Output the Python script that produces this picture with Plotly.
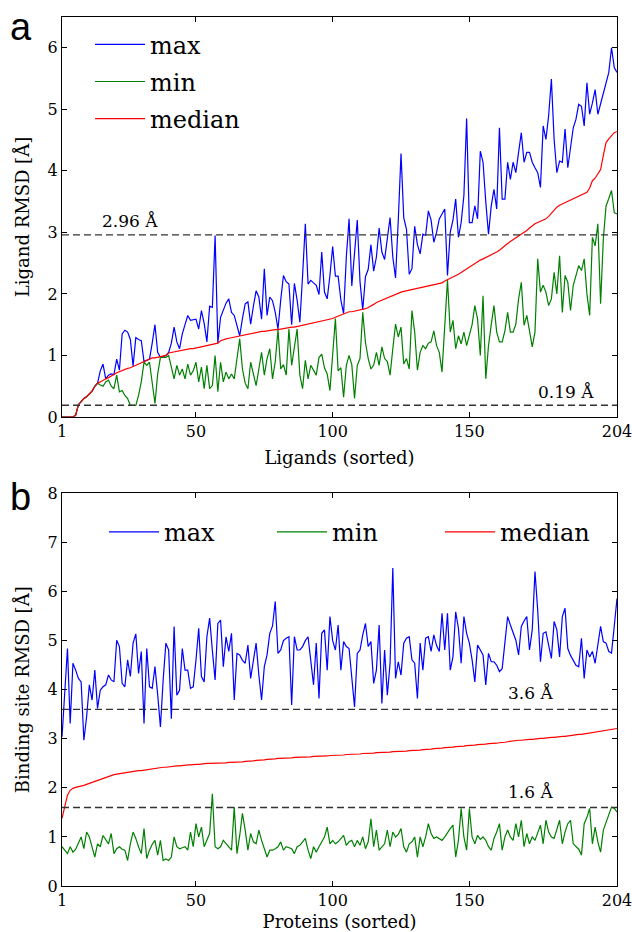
import plotly.graph_objects as go

x_idx = list(range(1, 205))
x_ticks = [1, 50, 100, 150, 204]
ya_ticks = [0, 1, 2, 3, 4, 5, 6]
yb_ticks = [0, 1, 2, 3, 4, 5, 6, 7, 8]
series_names = ["max", "min", "median"]

lig_median = [0,0,0,0,0,0.03,0.2,0.25,0.3,0.33,
0.37,0.42,0.5,0.55,0.57,0.6,0.62,0.64,0.66,0.69,
0.72,0.74,0.76,0.77,0.79,0.8,0.82,0.84,0.86,0.88,
0.9,0.92,0.94,0.96,0.96,0.97,0.97,0.98,1.0,1.04,
1.05,1.06,1.07,1.08,1.08,1.09,1.1,1.11,1.11,1.12,
1.13,1.14,1.15,1.16,1.17,1.18,1.19,1.2,1.24,1.26,
1.27,1.28,1.29,1.3,1.31,1.32,1.33,1.34,1.35,1.36,
1.36,1.37,1.38,1.39,1.39,1.4,1.41,1.41,1.42,1.42,
1.43,1.44,1.44,1.45,1.46,1.46,1.47,1.48,1.48,1.49,
1.5,1.51,1.52,1.53,1.54,1.55,1.56,1.57,1.59,1.6,
1.62,1.64,1.66,1.68,1.7,1.71,1.71,1.72,1.72,1.73,
1.74,1.76,1.78,1.8,1.83,1.86,1.88,1.9,1.92,1.94,
1.95,1.97,1.99,2.01,2.03,2.04,2.05,2.06,2.07,2.08,
2.09,2.1,2.1,2.11,2.12,2.13,2.14,2.15,2.16,2.18,
2.21,2.23,2.25,2.27,2.3,2.32,2.35,2.38,2.41,2.44,
2.46,2.49,2.52,2.55,2.57,2.59,2.62,2.64,2.66,2.68,
2.71,2.75,2.79,2.82,2.85,2.88,2.91,2.94,2.96,2.99,
3.03,3.07,3.11,3.14,3.16,3.18,3.2,3.22,3.26,3.31,
3.36,3.41,3.44,3.46,3.48,3.5,3.52,3.54,3.56,3.58,
3.6,3.62,3.65,3.72,3.84,3.88,3.94,4.02,4.25,4.46,
4.52,4.58,4.62,4.64]

lig_max = [0,0,0,0,0,0.03,0.2,0.25,0.3,0.33,
0.37,0.42,0.5,0.55,0.75,0.86,0.62,0.68,0.70,0.69,
0.94,0.76,1.35,1.41,1.38,1.26,0.83,1.29,1.26,1.24,
0.9,0.92,0.94,1.2,1.5,1.05,0.97,0.98,1.0,1.05,
1.2,1.46,1.22,1.11,1.35,1.5,1.65,1.57,1.58,1.59,
1.43,1.73,1.52,1.22,1.8,1.78,2.95,1.2,1.62,1.75,
1.85,1.92,1.70,1.65,1.5,1.32,1.6,1.84,1.87,1.51,
1.8,2.05,1.95,1.59,2.41,1.65,1.95,1.89,1.7,1.43,
1.9,2.3,2.2,2.16,1.5,2.17,1.9,1.54,2.3,3.14,
2.16,2.22,2.18,2.14,1.99,2.68,2.03,1.92,2.3,2.77,
2.29,2.29,1.9,1.68,2.6,3.22,2.13,2.67,3.2,2.2,
1.74,2.28,2.4,2.8,2.37,2.6,3.07,2.68,2.56,2.9,
3.24,2.6,2.26,3.2,4.28,3.24,3.05,2.32,2.41,3.1,
2.8,2.65,2.97,2.95,3.35,3.2,2.84,3.0,3.22,3.3,
3.38,2.3,3.0,3.2,3.54,2.92,3.16,3.6,4.85,3.16,
3.16,3.43,3.22,4.32,4.14,3.5,2.97,3.43,3.7,3.38,
4.7,3.54,3.54,4.14,3.86,4.14,3.97,4.3,4.62,4.14,
4.3,4.3,4.14,4.05,3.97,3.73,4.73,4.51,4.9,5.49,
4.51,3.97,4.16,4.14,4.68,4.05,4.4,4.7,4.84,5.08,
5.05,4.73,5.43,4.92,5.1,5.32,4.92,5.1,5.27,5.43,
5.6,6.0,5.68,5.6]

lig_min = [0,0,0,0,0,0.03,0.2,0.25,0.3,0.33,
0.37,0.42,0.5,0.55,0.52,0.5,0.57,0.6,0.5,0.46,
0.68,0.41,0.43,0.35,0.3,0.19,0.19,0.19,0.35,0.57,
0.89,0.84,0.89,0.55,0.22,0.7,0.97,0.97,0.97,1.0,
0.8,0.62,0.84,0.68,0.78,0.62,0.86,0.68,0.75,0.89,
0.57,0.81,0.46,0.84,0.46,0.51,1.0,0.41,0.89,0.57,
0.73,0.62,0.7,0.62,0.95,1.27,0.78,0.55,0.46,0.89,
0.7,0.51,0.78,1.05,0.68,0.95,1.11,0.62,0.9,1.42,
0.78,0.85,0.68,1.43,0.84,1.1,1.43,0.68,0.46,0.92,
0.62,0.84,0.75,0.68,0.97,1.02,0.8,0.7,0.43,1.0,
1.6,0.75,0.8,0.32,0.84,1.0,0.85,0.3,0.84,0.95,
1.7,1.21,0.95,0.78,0.84,1.05,0.84,1.14,0.95,0.9,
0.68,1.11,1.51,1.3,1.46,0.86,0.95,0.78,1.73,1.38,
0.76,1.05,1.16,1.11,1.2,1.22,1.4,1.16,1.05,0.73,
1.5,2.23,1.38,1.57,1.11,1.32,1.19,1.38,1.16,1.32,
1.5,1.81,1.59,1.0,1.97,0.62,1.16,1.5,1.81,1.38,
1.22,1.22,1.4,1.7,1.38,1.38,1.51,1.92,2.19,1.49,
1.65,1.4,1.14,1.38,2.57,2.03,2.14,2.03,1.81,1.92,
2.35,2.0,2.62,1.7,2.3,2.19,1.73,2.14,2.3,2.46,
2.38,2.57,2.0,1.65,2.92,2.78,3.14,1.84,2.9,3.43,
3.55,3.68,3.32,3.3]

site_median = [1.38,1.62,1.85,1.95,1.99,2.01,2.02,2.03,2.05,2.07,
2.09,2.11,2.14,2.16,2.18,2.2,2.22,2.24,2.26,2.27,
2.28,2.29,2.3,2.31,2.32,2.33,2.34,2.34,2.35,2.35,
2.36,2.37,2.38,2.38,2.39,2.4,2.41,2.42,2.42,2.43,
2.44,2.44,2.45,2.45,2.46,2.46,2.47,2.47,2.48,2.48,
2.48,2.49,2.49,2.5,2.5,2.5,2.5,2.51,2.51,2.51,
2.51,2.52,2.52,2.52,2.53,2.53,2.53,2.54,2.54,2.55,
2.55,2.56,2.56,2.57,2.57,2.58,2.58,2.59,2.59,2.6,
2.6,2.6,2.61,2.61,2.61,2.62,2.62,2.62,2.62,2.63,
2.63,2.63,2.64,2.64,2.64,2.65,2.65,2.65,2.66,2.66,
2.66,2.67,2.67,2.67,2.68,2.68,2.68,2.69,2.69,2.69,
2.7,2.7,2.7,2.71,2.71,2.72,2.72,2.72,2.73,2.73,
2.73,2.74,2.74,2.74,2.75,2.75,2.75,2.76,2.76,2.76,
2.77,2.77,2.78,2.78,2.79,2.79,2.8,2.8,2.81,2.81,
2.82,2.82,2.83,2.83,2.84,2.84,2.85,2.85,2.86,2.86,
2.87,2.87,2.88,2.88,2.89,2.89,2.9,2.9,2.91,2.91,
2.92,2.92,2.93,2.94,2.95,2.96,2.96,2.97,2.97,2.98,
2.98,2.99,2.99,3.0,3.0,3.01,3.01,3.02,3.02,3.03,
3.03,3.04,3.04,3.05,3.05,3.06,3.06,3.07,3.08,3.09,
3.09,3.1,3.11,3.12,3.13,3.14,3.15,3.16,3.17,3.18,
3.18,3.19,3.2,3.21]

site_max = [3.04,3.9,4.84,3.31,4.54,4.4,4.23,4.16,2.97,3.45,
4.10,3.79,4.40,3.62,3.99,4.06,4.1,4.30,4.20,4.16,
5.01,4.88,4.13,4.06,4.61,4.27,4.95,5.14,4.33,4.78,
3.31,4.84,4.06,4.03,4.47,3.9,3.24,4.2,4.95,4.81,
3.41,5.29,3.89,3.99,4.84,4.40,4.40,4.03,4.06,4.6,
5.25,4.27,4.16,5.08,5.46,4.8,4.20,5.35,5.42,4.47,
5.08,4.78,5.15,3.79,4.74,4.71,4.6,4.54,4.91,4.23,
4.57,4.95,4.3,3.79,4.47,4.71,5.15,5.3,5.80,4.74,
4.81,5.0,5.05,5.08,3.69,5.08,4.81,4.81,4.88,5.0,
5.08,4.6,4.10,4.95,3.82,5.15,5.22,4.40,5.49,5.0,
4.81,5.32,4.40,4.98,4.88,4.84,4.2,3.65,4.74,4.81,
5.12,5.35,4.88,4.98,4.13,4.40,5.32,3.72,4.81,3.89,
4.54,6.48,4.23,4.57,4.30,4.95,5.05,5.08,4.61,4.54,
3.82,4.95,4.40,5.05,5.08,4.78,5.12,4.9,4.78,5.56,
4.81,5.56,4.40,4.67,5.59,5.25,4.54,5.49,5.15,4.95,
4.61,4.16,4.91,4.8,4.71,4.10,4.74,4.57,4.57,4.5,
4.37,4.43,4.91,5.49,5.32,5.15,5.01,4.71,5.29,5.4,
5.49,4.81,5.22,6.41,5.62,4.57,5.15,5.18,4.9,4.64,
5.39,5.22,4.67,5.49,5.66,4.84,4.7,4.60,4.50,4.47,
5.05,4.23,4.81,4.67,4.78,4.54,4.9,5.29,4.98,4.95,
4.78,4.75,5.3,5.86]

site_min = [0.80,0.73,0.66,0.80,0.69,0.75,0.86,1.0,0.76,1.10,
1.0,0.8,0.59,0.86,0.80,1.03,0.95,0.86,1.07,0.66,
0.76,0.80,0.75,0.73,0.52,0.86,1.10,0.97,0.8,0.66,
1.17,0.56,0.73,0.85,0.93,0.63,0.93,0.52,0.55,0.52,
0.59,1.0,0.80,0.76,0.78,0.80,0.73,1.10,0.80,1.27,
1.0,1.20,0.80,0.93,1.07,1.88,0.80,0.76,0.80,0.93,
0.86,0.8,0.73,1.61,0.66,1.03,1.48,1.14,0.73,1.07,
0.9,0.86,1.14,0.93,0.76,0.59,0.73,0.73,0.76,0.80,
0.90,0.73,0.80,0.78,0.76,0.66,0.80,0.83,0.9,0.97,
0.73,0.56,0.80,0.69,0.80,0.90,1.0,1.20,0.86,0.93,
0.86,0.9,0.97,1.03,0.83,0.9,0.93,0.80,0.93,0.83,
1.0,0.76,0.9,1.37,0.80,1.14,0.73,0.8,0.86,1.14,
0.80,1.10,1.0,1.05,1.17,0.80,0.69,0.86,0.9,1.0,
0.59,1.0,0.80,1.0,1.27,1.07,0.97,1.0,0.97,0.93,
1.0,1.10,1.17,1.24,0.59,0.93,1.58,1.0,0.73,1.58,
1.0,0.86,1.03,0.95,1.0,0.93,0.80,0.73,0.97,1.1,
1.27,0.73,1.0,1.14,1.0,0.93,1.27,1.0,1.34,0.80,
1.07,0.86,1.0,0.93,1.1,1.24,0.86,1.34,1.1,1.0,
0.97,1.14,1.34,0.86,1.1,1.27,1.34,0.86,0.80,0.75,
0.63,1.27,1.4,1.58,0.86,1.20,0.9,0.69,1.14,1.3,
1.48,1.61,1.58,1.51]

lig_thresholds = [2.96, 0.19]
site_thresholds = [3.6, 1.6]

colors = {"max": "#0000ff", "min": "#008000", "median": "#ff0000"}
SERIF = "DejaVu Serif"

fig = go.Figure()
for name, ys in zip(series_names, [lig_max, lig_min, lig_median]):
    fig.add_trace(go.Scatter(x=x_idx, y=ys, mode="lines", name=name,
                             line=dict(color=colors[name], width=1.2),
                             xaxis="x", yaxis="y", legend="legend",
                             legendgroup="a_" + name))
for name, ys in zip(series_names, [site_max, site_min, site_median]):
    fig.add_trace(go.Scatter(x=x_idx, y=ys, mode="lines", name=name,
                             line=dict(color=colors[name], width=1.2),
                             xaxis="x2", yaxis="y2", legend="legend2"))

# empty helper traces so the frame axes (top / right) are created
fig.add_trace(go.Scatter(x=[], y=[], xaxis="x3", yaxis="y3", showlegend=False, hoverinfo="skip"))
fig.add_trace(go.Scatter(x=[], y=[], xaxis="x4", yaxis="y4", showlegend=False, hoverinfo="skip"))

for v in lig_thresholds:
    fig.add_shape(type="line", xref="x domain", yref="y", x0=0, x1=1, y0=v, y1=v,
                  line=dict(color="#333333", width=1.4, dash="7px,4px"))
for v in site_thresholds:
    fig.add_shape(type="line", xref="x2 domain", yref="y2", x0=0, x1=1, y0=v, y1=v,
                  line=dict(color="#333333", width=1.4, dash="7px,4px"))

ann_font = dict(family=SERIF, size=17, color="black")
fig.add_annotation(x=26, y=3.18, xref="x", yref="y", text="2.96 Å", showarrow=False, font=ann_font)
fig.add_annotation(x=185.5, y=0.41, xref="x", yref="y", text="0.19 Å", showarrow=False, font=ann_font)
fig.add_annotation(x=172.5, y=3.93, xref="x2", yref="y2", text="3.6 Å", showarrow=False, font=ann_font)
fig.add_annotation(x=172.5, y=1.91, xref="x2", yref="y2", text="1.6 Å", showarrow=False, font=ann_font)

lab_font = dict(family="Liberation Sans", size=38, color="black")
fig.add_annotation(x=-0.074, y=0.9885, xref="paper", yref="paper", text="a", showarrow=False,
                   font=lab_font, xanchor="center", yanchor="middle")
fig.add_annotation(x=-0.074, y=0.4482, xref="paper", yref="paper", text="b", showarrow=False,
                   font=lab_font, xanchor="center", yanchor="middle")

tick_font = dict(family=SERIF, size=16, color="black")
title_font = dict(family=SERIF, size=18, color="black")
axis_common = dict(showline=True, linecolor="black", linewidth=1, mirror="ticks",
                   ticks="inside", ticklen=5, tickcolor="black", showgrid=False,
                   zeroline=False, tickfont=tick_font, ticklabeloverflow="allow",
                   automargin=False)
frame_common = dict(showline=True, linecolor="black", linewidth=1, ticks="inside",
                    ticklen=5, tickcolor="black", showgrid=False, zeroline=False,
                    showticklabels=False, automargin=False)

dom_a = [0.5397, 1]
dom_b = [0, 0.4517]

fig.update_layout(
    width=632, height=932,
    margin=dict(l=62, r=15, t=17, b=46, autoexpand=False),
    paper_bgcolor="white", plot_bgcolor="white",
    xaxis=dict(axis_common, domain=[0, 1], anchor="y", range=[1, 204], tickvals=x_ticks,
               title=dict(text="Ligands (sorted)", font=title_font, standoff=11)),
    yaxis=dict(axis_common, domain=dom_a, anchor="x", range=[0, 6.5], tickvals=ya_ticks,
               title=dict(text="Ligand RMSD [Å]", font=title_font, standoff=13)),
    xaxis2=dict(axis_common, domain=[0, 1], anchor="y2", range=[1, 204], tickvals=x_ticks,
                title=dict(text="Proteins (sorted)", font=title_font, standoff=12)),
    yaxis2=dict(axis_common, domain=dom_b, anchor="x2", range=[0, 8], tickvals=yb_ticks,
                title=dict(text="Binding site RMSD [Å]", font=title_font, standoff=13)),
    xaxis3=dict(frame_common, overlaying="x", side="top", anchor="y", range=[1, 204],
                tickvals=x_ticks),
    yaxis3=dict(frame_common, overlaying="y", side="right", anchor="x", range=[0, 6.5],
                tickvals=ya_ticks),
    xaxis4=dict(frame_common, overlaying="x2", side="top", anchor="y2", range=[1, 204],
                tickvals=x_ticks),
    yaxis4=dict(frame_common, overlaying="y2", side="right", anchor="x2", range=[0, 8],
                tickvals=yb_ticks),
    legend=dict(x=0.0505, y=0.994, xanchor="left", yanchor="top", bgcolor="rgba(0,0,0,0)",
                font=dict(family=SERIF, size=24, color="black"), itemwidth=50,
                tracegroupgap=3),
    legend2=dict(x=0.0757, y=0.433, xanchor="left", yanchor="top", orientation="h",
                 bgcolor="rgba(0,0,0,0)", entrywidth=103, entrywidthmode="pixels",
                 font=dict(family=SERIF, size=24, color="black"), itemwidth=50),
    showlegend=True,
)

fig.write_html("out.html", config={"displayModeBar": False},
               post_script="document.body.style.margin='0';document.body.style.overflow='hidden';")
